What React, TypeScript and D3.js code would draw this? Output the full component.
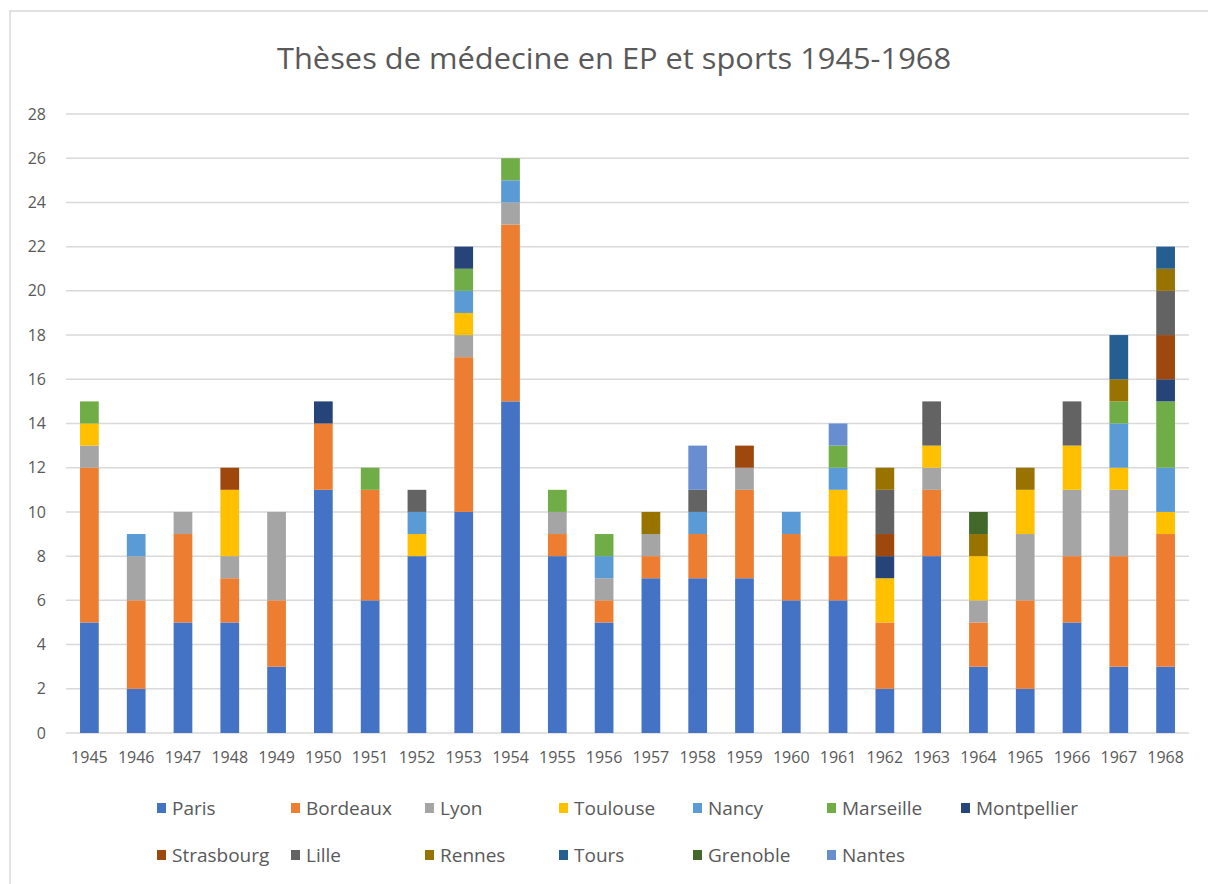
import React from 'react';
import * as d3 from 'd3';

const years = [
  '1945', '1946', '1947', '1948', '1949', '1950', '1951', '1952', '1953', '1954', '1955', '1956',
  '1957', '1958', '1959', '1960', '1961', '1962', '1963', '1964', '1965', '1966', '1967', '1968',
];

// one array per faculty, values in the same order as years
const paris = [5, 2, 5, 5, 3, 11, 6, 8, 10, 15, 8, 5, 7, 7, 7, 6, 6, 2, 8, 3, 2, 5, 3, 3];
const bordeaux = [7, 4, 4, 2, 3, 3, 5, 0, 7, 8, 1, 1, 1, 2, 4, 3, 2, 3, 3, 2, 4, 3, 5, 6];
const lyon = [1, 2, 1, 1, 4, 0, 0, 0, 1, 1, 1, 1, 1, 0, 1, 0, 0, 0, 1, 1, 3, 3, 3, 0];
const toulouse = [1, 0, 0, 3, 0, 0, 0, 1, 1, 0, 0, 0, 0, 0, 0, 0, 3, 2, 1, 2, 2, 2, 1, 1];
const nancy = [0, 1, 0, 0, 0, 0, 0, 1, 1, 1, 0, 1, 0, 1, 0, 1, 1, 0, 0, 0, 0, 0, 2, 2];
const marseille = [1, 0, 0, 0, 0, 0, 1, 0, 1, 1, 1, 1, 0, 0, 0, 0, 1, 0, 0, 0, 0, 0, 1, 3];
const montpellier = [0, 0, 0, 0, 0, 1, 0, 0, 1, 0, 0, 0, 0, 0, 0, 0, 0, 1, 0, 0, 0, 0, 0, 1];
const strasbourg = [0, 0, 0, 1, 0, 0, 0, 0, 0, 0, 0, 0, 0, 0, 1, 0, 0, 1, 0, 0, 0, 0, 0, 2];
const lille = [0, 0, 0, 0, 0, 0, 0, 1, 0, 0, 0, 0, 0, 1, 0, 0, 0, 2, 2, 0, 0, 2, 0, 2];
const rennes = [0, 0, 0, 0, 0, 0, 0, 0, 0, 0, 0, 0, 1, 0, 0, 0, 0, 1, 0, 1, 1, 0, 1, 1];
const tours = [0, 0, 0, 0, 0, 0, 0, 0, 0, 0, 0, 0, 0, 0, 0, 0, 0, 0, 0, 0, 0, 0, 2, 1];
const grenoble = [0, 0, 0, 0, 0, 0, 0, 0, 0, 0, 0, 0, 0, 0, 0, 0, 0, 0, 0, 1, 0, 0, 0, 0];
const nantes = [0, 0, 0, 0, 0, 0, 0, 0, 0, 0, 0, 0, 0, 2, 0, 0, 1, 0, 0, 0, 0, 0, 0, 0];

const seriesNames = [
  'Paris', 'Bordeaux', 'Lyon', 'Toulouse', 'Nancy', 'Marseille', 'Montpellier',
  'Strasbourg', 'Lille', 'Rennes', 'Tours', 'Grenoble', 'Nantes',
];
const seriesValues = [
  paris, bordeaux, lyon, toulouse, nancy, marseille, montpellier,
  strasbourg, lille, rennes, tours, grenoble, nantes,
];
const colors = [
  '#4472C4', '#ED7D31', '#A5A5A5', '#FFC000', '#5B9BD5', '#70AD47', '#264478',
  '#9E480E', '#636363', '#997300', '#255E91', '#43682B', '#698ED0',
];
const yTicks = [0, 2, 4, 6, 8, 10, 12, 14, 16, 18, 20, 22, 24, 26, 28];

const W = 1208;
const H = 884;
const plotLeft = 66;
const plotRight = 1189;
const plotTop = 114;
const plotBottom = 733;
const font = '"Open Sans", sans-serif';
const textColor = '#595959';

export default function App() {
  const rows = years.map((yr, i) => {
    const row: Record<string, any> = { year: yr };
    seriesNames.forEach((name, s) => (row[name] = seriesValues[s][i]));
    return row;
  });
  const stacked = d3.stack<any>().keys(seriesNames)(rows);

  const x = d3
    .scaleBand()
    .domain(years)
    .range([plotLeft, plotRight])
    .paddingInner(0.6)
    .paddingOuter(0.3);
  const y = d3.scaleLinear().domain([0, 28]).range([plotBottom, plotTop]);
  const color = d3.scaleOrdinal<string, string>().domain(seriesNames).range(colors);

  // legend grid: 7 columns, 2 rows
  const legendCol = (i: number) => 157 + (i % 7) * 134;
  const legendRow = (i: number) => 808 + Math.floor(i / 7) * 47;

  return (
    <svg
      width={W}
      height={H}
      style={{ position: 'absolute', left: 0, top: 0, background: '#fff' }}
    >
      <rect x={10} y={11} width={1300} height={1000} fill="#fff" stroke="#d9d9d9" strokeWidth={1.5} />
      <text
        x={277}
        y={69}
        textLength={674}
        lengthAdjust="spacingAndGlyphs"
        fontFamily={font}
        fontSize={29}
        fill={textColor}
      >
        Thèses de médecine en EP et sports 1945-1968
      </text>

      <g>
        {yTicks.map((t) => (
          <g key={t}>
            <line
              x1={plotLeft}
              x2={plotRight}
              y1={y(t)}
              y2={y(t)}
              stroke="#d9d9d9"
              strokeWidth={1.5}
            />
            <text
              x={46}
              y={y(t)}
              dy="0.35em"
              textAnchor="end"
              fontFamily={font}
              fontSize={16}
              fill={textColor}
            >
              {t}
            </text>
          </g>
        ))}
      </g>

      <g>
        {stacked.map((layer) => (
          <g key={layer.key} fill={color(layer.key)}>
            {layer.map((d, i) =>
              d[1] - d[0] > 0 ? (
                <rect
                  key={i}
                  x={x(years[i])}
                  y={y(d[1])}
                  width={x.bandwidth()}
                  height={y(d[0]) - y(d[1])}
                />
              ) : null
            )}
          </g>
        ))}
      </g>

      <g>
        {years.map((yr) => (
          <text
            key={yr}
            x={(x(yr) ?? 0) + x.bandwidth() / 2}
            y={757}
            dy="0.35em"
            textAnchor="middle"
            fontFamily={font}
            fontSize={16}
            fill={textColor}
          >
            {yr}
          </text>
        ))}
      </g>

      <g>
        {seriesNames.map((name, i) => (
          <g key={name} transform={`translate(${legendCol(i)}, ${legendRow(i)})`}>
            <rect x={0} y={-5} width={9} height={10} fill={color(name)} />
            <text
              x={15}
              y={0}
              dy="0.35em"
              fontFamily={font}
              fontSize={19}
              fill={textColor}
            >
              {name}
            </text>
          </g>
        ))}
      </g>
    </svg>
  );
}
